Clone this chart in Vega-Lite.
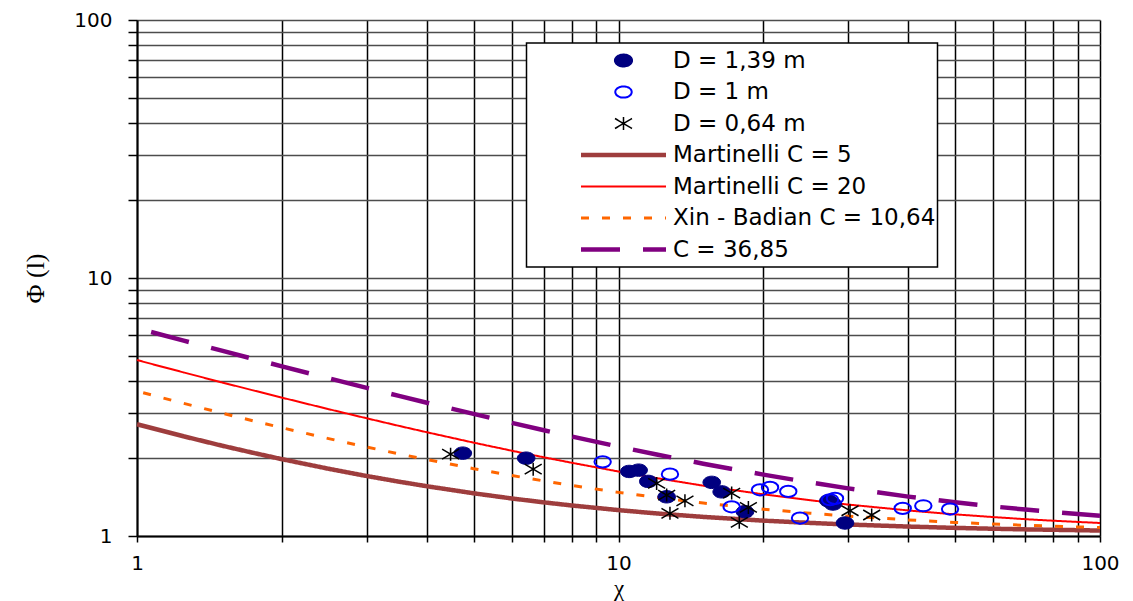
{
  "$schema": "https://vega.github.io/schema/vega-lite/v6.json",
  "width": 963,
  "height": 516,
  "autosize": "none",
  "padding": {"left": 137, "top": 20, "right": 33, "bottom": 65},
  "background": "white",
  "datasets": {
    "points": [
      {"series": "D = 1,39 m", "x": 4.75, "y": 2.095},
      {"series": "D = 1,39 m", "x": 6.43, "y": 2.003},
      {"series": "D = 1,39 m", "x": 10.53, "y": 1.779},
      {"series": "D = 1,39 m", "x": 11.01, "y": 1.8},
      {"series": "D = 1,39 m", "x": 11.53, "y": 1.628},
      {"series": "D = 1,39 m", "x": 12.59, "y": 1.419},
      {"series": "D = 1,39 m", "x": 15.62, "y": 1.614},
      {"series": "D = 1,39 m", "x": 16.38, "y": 1.483},
      {"series": "D = 1,39 m", "x": 18.31, "y": 1.242},
      {"series": "D = 1,39 m", "x": 27.28, "y": 1.369},
      {"series": "D = 1,39 m", "x": 27.89, "y": 1.33},
      {"series": "D = 1,39 m", "x": 29.54, "y": 1.123},
      {"series": "D = 1 m", "x": 9.27, "y": 1.938},
      {"series": "D = 1 m", "x": 12.79, "y": 1.737},
      {"series": "D = 1 m", "x": 17.18, "y": 1.298},
      {"series": "D = 1 m", "x": 19.67, "y": 1.51},
      {"series": "D = 1 m", "x": 20.64, "y": 1.543},
      {"series": "D = 1 m", "x": 22.52, "y": 1.489},
      {"series": "D = 1 m", "x": 23.82, "y": 1.174},
      {"series": "D = 1 m", "x": 27.5, "y": 1.382},
      {"series": "D = 1 m", "x": 28.16, "y": 1.399},
      {"series": "D = 1 m", "x": 38.93, "y": 1.28},
      {"series": "D = 1 m", "x": 42.96, "y": 1.31},
      {"series": "D = 1 m", "x": 48.82, "y": 1.272},
      {"series": "D = 0,64 m", "x": 4.48, "y": 2.076},
      {"series": "D = 0,64 m", "x": 6.65, "y": 1.816},
      {"series": "D = 0,64 m", "x": 12.0, "y": 1.599},
      {"series": "D = 0,64 m", "x": 12.59, "y": 1.441},
      {"series": "D = 0,64 m", "x": 13.74, "y": 1.369},
      {"series": "D = 0,64 m", "x": 12.79, "y": 1.224},
      {"series": "D = 0,64 m", "x": 17.18, "y": 1.467},
      {"series": "D = 0,64 m", "x": 18.61, "y": 1.291},
      {"series": "D = 0,64 m", "x": 17.82, "y": 1.13},
      {"series": "D = 0,64 m", "x": 30.26, "y": 1.253},
      {"series": "D = 0,64 m", "x": 33.56, "y": 1.206}
    ],
    "curves": [
      {"series": "Martinelli C = 5", "x": 1, "y": 2.712},
      {"series": "Martinelli C = 5", "x": 1.25, "y": 2.434},
      {"series": "Martinelli C = 5", "x": 1.5, "y": 2.24},
      {"series": "Martinelli C = 5", "x": 1.75, "y": 2.097},
      {"series": "Martinelli C = 5", "x": 2, "y": 1.985},
      {"series": "Martinelli C = 5", "x": 2.5, "y": 1.822},
      {"series": "Martinelli C = 5", "x": 3, "y": 1.708},
      {"series": "Martinelli C = 5", "x": 3.5, "y": 1.624},
      {"series": "Martinelli C = 5", "x": 4, "y": 1.559},
      {"series": "Martinelli C = 5", "x": 5, "y": 1.464},
      {"series": "Martinelli C = 5", "x": 6, "y": 1.398},
      {"series": "Martinelli C = 5", "x": 7, "y": 1.35},
      {"series": "Martinelli C = 5", "x": 8, "y": 1.313},
      {"series": "Martinelli C = 5", "x": 10, "y": 1.26},
      {"series": "Martinelli C = 5", "x": 12, "y": 1.223},
      {"series": "Martinelli C = 5", "x": 15, "y": 1.186},
      {"series": "Martinelli C = 5", "x": 20, "y": 1.147},
      {"series": "Martinelli C = 5", "x": 25, "y": 1.124},
      {"series": "Martinelli C = 5", "x": 30, "y": 1.108},
      {"series": "Martinelli C = 5", "x": 40, "y": 1.088},
      {"series": "Martinelli C = 5", "x": 50, "y": 1.075},
      {"series": "Martinelli C = 5", "x": 60, "y": 1.067},
      {"series": "Martinelli C = 5", "x": 70, "y": 1.061},
      {"series": "Martinelli C = 5", "x": 80, "y": 1.057},
      {"series": "Martinelli C = 5", "x": 100, "y": 1.05},
      {"series": "Martinelli C = 20", "x": 1, "y": 4.808},
      {"series": "Martinelli C = 20", "x": 1.25, "y": 4.305},
      {"series": "Martinelli C = 20", "x": 1.5, "y": 3.94},
      {"series": "Martinelli C = 20", "x": 1.75, "y": 3.661},
      {"series": "Martinelli C = 20", "x": 2, "y": 3.438},
      {"series": "Martinelli C = 20", "x": 2.5, "y": 3.102},
      {"series": "Martinelli C = 20", "x": 3, "y": 2.859},
      {"series": "Martinelli C = 20", "x": 3.5, "y": 2.672},
      {"series": "Martinelli C = 20", "x": 4, "y": 2.524},
      {"series": "Martinelli C = 20", "x": 5, "y": 2.301},
      {"series": "Martinelli C = 20", "x": 6, "y": 2.141},
      {"series": "Martinelli C = 20", "x": 7, "y": 2.018},
      {"series": "Martinelli C = 20", "x": 8, "y": 1.922},
      {"series": "Martinelli C = 20", "x": 10, "y": 1.778},
      {"series": "Martinelli C = 20", "x": 12, "y": 1.676},
      {"series": "Martinelli C = 20", "x": 15, "y": 1.567},
      {"series": "Martinelli C = 20", "x": 20, "y": 1.45},
      {"series": "Martinelli C = 20", "x": 25, "y": 1.376},
      {"series": "Martinelli C = 20", "x": 30, "y": 1.324},
      {"series": "Martinelli C = 20", "x": 40, "y": 1.256},
      {"series": "Martinelli C = 20", "x": 50, "y": 1.213},
      {"series": "Martinelli C = 20", "x": 60, "y": 1.184},
      {"series": "Martinelli C = 20", "x": 70, "y": 1.162},
      {"series": "Martinelli C = 20", "x": 80, "y": 1.146},
      {"series": "Martinelli C = 20", "x": 100, "y": 1.123},
      {"series": "Xin - Badian C = 10,64", "x": 1.03, "y": 3.591},
      {"series": "Xin - Badian C = 10,64", "x": 1.25, "y": 3.266},
      {"series": "Xin - Badian C = 10,64", "x": 1.5, "y": 2.995},
      {"series": "Xin - Badian C = 10,64", "x": 1.75, "y": 2.79},
      {"series": "Xin - Badian C = 10,64", "x": 2, "y": 2.627},
      {"series": "Xin - Badian C = 10,64", "x": 2.5, "y": 2.385},
      {"series": "Xin - Badian C = 10,64", "x": 3, "y": 2.212},
      {"series": "Xin - Badian C = 10,64", "x": 3.5, "y": 2.081},
      {"series": "Xin - Badian C = 10,64", "x": 4, "y": 1.978},
      {"series": "Xin - Badian C = 10,64", "x": 5, "y": 1.824},
      {"series": "Xin - Badian C = 10,64", "x": 6, "y": 1.716},
      {"series": "Xin - Badian C = 10,64", "x": 7, "y": 1.634},
      {"series": "Xin - Badian C = 10,64", "x": 8, "y": 1.57},
      {"series": "Xin - Badian C = 10,64", "x": 10, "y": 1.476},
      {"series": "Xin - Badian C = 10,64", "x": 12, "y": 1.41},
      {"series": "Xin - Badian C = 10,64", "x": 15, "y": 1.342},
      {"series": "Xin - Badian C = 10,64", "x": 20, "y": 1.27},
      {"series": "Xin - Badian C = 10,64", "x": 25, "y": 1.225},
      {"series": "Xin - Badian C = 10,64", "x": 30, "y": 1.194},
      {"series": "Xin - Badian C = 10,64", "x": 40, "y": 1.154},
      {"series": "Xin - Badian C = 10,64", "x": 50, "y": 1.129},
      {"series": "Xin - Badian C = 10,64", "x": 60, "y": 1.112},
      {"series": "Xin - Badian C = 10,64", "x": 70, "y": 1.1},
      {"series": "Xin - Badian C = 10,64", "x": 80, "y": 1.091},
      {"series": "Xin - Badian C = 10,64", "x": 100, "y": 1.078},
      {"series": "C = 36,85", "x": 1.07, "y": 6.177},
      {"series": "C = 36,85", "x": 1.25, "y": 5.718},
      {"series": "C = 36,85", "x": 1.5, "y": 5.228},
      {"series": "C = 36,85", "x": 1.75, "y": 4.849},
      {"series": "C = 36,85", "x": 2, "y": 4.547},
      {"series": "C = 36,85", "x": 2.5, "y": 4.087},
      {"series": "C = 36,85", "x": 3, "y": 3.751},
      {"series": "C = 36,85", "x": 3.5, "y": 3.493},
      {"series": "C = 36,85", "x": 4, "y": 3.286},
      {"series": "C = 36,85", "x": 5, "y": 2.973},
      {"series": "C = 36,85", "x": 6, "y": 2.745},
      {"series": "C = 36,85", "x": 7, "y": 2.57},
      {"series": "C = 36,85", "x": 8, "y": 2.43},
      {"series": "C = 36,85", "x": 10, "y": 2.221},
      {"series": "C = 36,85", "x": 12, "y": 2.07},
      {"series": "C = 36,85", "x": 15, "y": 1.907},
      {"series": "C = 36,85", "x": 20, "y": 1.729},
      {"series": "C = 36,85", "x": 25, "y": 1.613},
      {"series": "C = 36,85", "x": 30, "y": 1.53},
      {"series": "C = 36,85", "x": 40, "y": 1.421},
      {"series": "C = 36,85", "x": 50, "y": 1.351},
      {"series": "C = 36,85", "x": 60, "y": 1.302},
      {"series": "C = 36,85", "x": 70, "y": 1.266},
      {"series": "C = 36,85", "x": 80, "y": 1.239},
      {"series": "C = 36,85", "x": 100, "y": 1.199}
    ]
  },
  "encoding": {
    "x": {
      "field": "x",
      "type": "quantitative",
      "scale": {"type": "log", "domain": [1, 100], "nice": false},
      "axis": {
        "values": [1, 2, 3, 4, 5, 6, 7, 8, 9, 10, 20, 30, 40, 50, 60, 70, 80, 90, 100],
        "format": "d",
        "labelExpr": "datum.value == 1 || datum.value == 10 || datum.value == 100 ? datum.label : ''",
        "gridColor": "black",
        "gridWidth": 1.5,
        "tickSize": 6,
        "labelPadding": 11,
        "labelFontSize": 20,
        "title": "χ",
        "titleFontSize": 23,
        "titleBaseline": "alphabetic",
        "titleY": 59
      }
    },
    "y": {
      "field": "y",
      "type": "quantitative",
      "scale": {"type": "log", "domain": [1, 100], "nice": false},
      "axis": {
        "values": [1, 2, 3, 4, 5, 6, 7, 8, 9, 10, 20, 30, 40, 50, 60, 70, 80, 90, 100],
        "format": "d",
        "labelExpr": "datum.value == 1 || datum.value == 10 || datum.value == 100 ? datum.label : ''",
        "gridColor": "#4d4d4d",
        "gridWidth": 1.3,
        "tickSize": 9,
        "labelPadding": 16,
        "labelFontSize": 20,
        "labelBaseline": "middle",
        "title": "Φ (l)",
        "titleFontSize": 26,
        "titleAngle": -90,
        "titleBaseline": "middle",
        "titleAlign": "center",
        "titleX": -102,
        "titleY": 258
      }
    }
  },
  "layer": [
    {
      "data": {"name": "curves"},
      "mark": {"type": "line", "interpolate": "linear", "strokeCap": "butt"},
      "encoding": {
        "stroke": {
          "field": "series",
          "type": "nominal",
          "scale": {
            "domain": ["D = 1,39 m", "D = 1 m", "D = 0,64 m", "Martinelli C = 5", "Martinelli C = 20", "Xin - Badian C = 10,64", "C = 36,85"],
            "range": ["#000080", "#0000FF", "black", "#9E3D3D", "#FF0000", "#FF6600", "#800080"]
          },
          "legend": {
            "title": null,
            "encode": {
              "symbols": {
                "update": {
                  "strokeWidth": {"signal": "datum.value === 'Martinelli C = 5' || datum.value === 'C = 36,85' ? 4.5 : datum.value === 'Xin - Badian C = 10,64' ? 3 : datum.value === 'D = 1 m' || datum.value === 'Martinelli C = 20' ? 2 : 1.5"}
                }
              }
            }
          }
        },
        "strokeDash": {
          "field": "series",
          "type": "nominal",
          "scale": {
            "domain": ["D = 1,39 m", "D = 1 m", "D = 0,64 m", "Martinelli C = 5", "Martinelli C = 20", "Xin - Badian C = 10,64", "C = 36,85"],
            "range": [[1, 0], [1, 0], [1, 0], [1, 0], [1, 0], [8, 13], [39, 23]]
          },
          "legend": {"title": null}
        },
        "strokeWidth": {
          "condition": [
            {"test": "datum.series === 'Martinelli C = 5'", "value": 4.5},
            {"test": "datum.series === 'C = 36,85'", "value": 4.5},
            {"test": "datum.series === 'Xin - Badian C = 10,64'", "value": 3}
          ],
          "value": 2
        }
      }
    },
    {
      "data": {"name": "points"},
      "mark": {"type": "point", "size": 400, "opacity": 1},
      "encoding": {
        "stroke": {"field": "series", "type": "nominal"},
        "fill": {
          "field": "series",
          "type": "nominal",
          "scale": {
            "domain": ["D = 1,39 m", "D = 1 m", "D = 0,64 m", "Martinelli C = 5", "Martinelli C = 20", "Xin - Badian C = 10,64", "C = 36,85"],
            "range": ["#000080", "transparent", "transparent", "transparent", "transparent", "transparent", "transparent"]
          },
          "legend": {"title": null}
        },
        "shape": {
          "field": "series",
          "type": "nominal",
          "scale": {
            "domain": ["D = 1,39 m", "D = 1 m", "D = 0,64 m", "Martinelli C = 5", "Martinelli C = 20", "Xin - Badian C = 10,64", "C = 36,85"],
            "range": [
              "M0.88,0A0.88,0.62,0,1,1,-0.88,0A0.88,0.62,0,1,1,0.88,0Z",
              "M0.82,0A0.82,0.56,0,1,1,-0.82,0A0.82,0.56,0,1,1,0.82,0Z",
              "M0,-0.65L0,0.65M-0.85,-0.5L0.85,0.5M-0.85,0.5L0.85,-0.5",
              "M-4.25,0L4.25,0",
              "M-4.25,0L4.25,0",
              "M-4.25,0L4.25,0",
              "M-4.25,0L4.25,0"
            ]
          },
          "legend": {"title": null}
        },
        "strokeWidth": {
          "condition": [
            {"test": "datum.series === 'D = 1 m'", "value": 2},
            {"test": "datum.series === 'D = 0,64 m'", "value": 1.5}
          ],
          "value": 1
        }
      }
    }
  ],
  "config": {
    "view": {"stroke": null},
    "axis": {
      "grid": true,
      "gridOpacity": 1,
      "domainColor": "black",
      "domainWidth": 2,
      "tickColor": "black",
      "tickWidth": 1.5,
      "labelFont": "DejaVu Sans",
      "labelColor": "black",
      "labelFlush": false,
      "labelOverlap": false,
      "titleFont": "Liberation Serif",
      "titleFontWeight": "normal",
      "titleColor": "black"
    },
    "legend": {
      "orient": "none",
      "legendX": 389.5,
      "legendY": 23,
      "fillColor": "white",
      "strokeColor": "black",
      "strokeWidth": 1.5,
      "padding": 2,
      "clipHeight": 31,
      "rowPadding": 0.5,
      "symbolOffset": 83.5,
      "labelOffset": 38,
      "symbolSize": 400,
      "labelFont": "DejaVu Sans",
      "labelFontSize": 23,
      "labelColor": "black",
      "labelBaseline": "middle",
      "labelLimit": 500,
      "symbolLimit": 0
    }
  }
}
